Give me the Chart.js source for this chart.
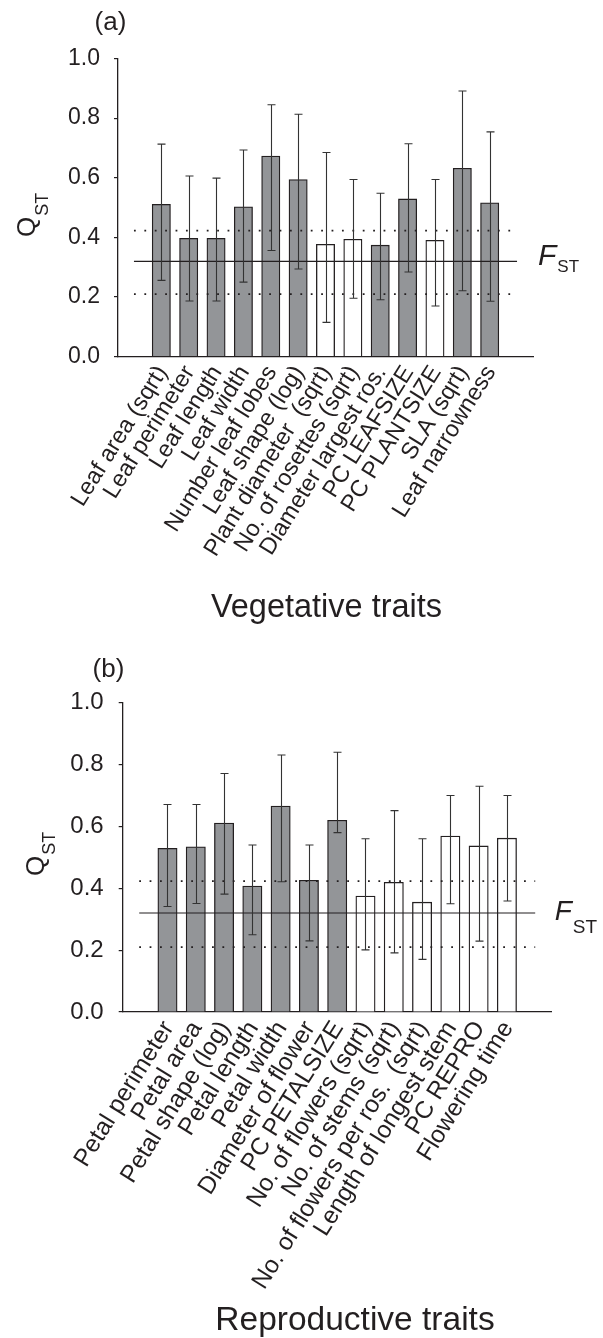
<!DOCTYPE html>
<html>
<head>
<meta charset="utf-8">
<script src="https://cdn.jsdelivr.net/npm/chart.js@4/dist/chart.umd.min.js"></script>
<style>
  html, body { margin: 0; padding: 0; background: #ffffff; }
  canvas { display: block; }
</style>
</head>
<body>
<canvas id="panelA" width="603" height="640"></canvas>
<canvas id="panelB" width="603" height="698"></canvas>
<script>
// ---- Vegetative traits ----
const vegTraits = ['Leaf area (sqrt)', 'Leaf perimeter', 'Leaf length', 'Leaf width',
  'Number leaf lobes', 'Leaf shape (log)', 'Plant diameter  (sqrt)', 'No. of rosettes (sqrt)',
  'Diameter largest ros.', 'PC LEAFSIZE', 'PC PLANTSIZE', 'SLA (sqrt)', 'Leaf narrowness'];
const vegQst  = [0.511, 0.397, 0.397, 0.503, 0.673, 0.594, 0.377, 0.394, 0.374, 0.529, 0.390, 0.632, 0.516];
const vegLow  = [0.256, 0.187, 0.187, 0.250, 0.356, 0.294, 0.115, 0.196, 0.191, 0.284, 0.170, 0.221, 0.186];
const vegHigh = [0.713, 0.606, 0.599, 0.693, 0.845, 0.813, 0.685, 0.594, 0.548, 0.714, 0.594, 0.891, 0.754];
const vegShaded = [1, 1, 1, 1, 1, 1, 0, 0, 1, 1, 0, 1, 1];

// ---- Reproductive traits ----
const repTraits = ['Petal perimeter', 'Petal area', 'Petal shape (log)', 'Petal length',
  'Petal width', 'Diameter of flower', 'PC PETALSIZE', 'No. of flowers (sqrt)',
  'No. of stems (sqrt)', 'No. of flowers per ros.  (sqrt)', 'Length of longest stem',
  'PC REPRO', 'Flowering time'];
const repQst  = [0.529, 0.534, 0.611, 0.407, 0.666, 0.426, 0.620, 0.375, 0.419, 0.355, 0.569, 0.537, 0.562];
const repLow  = [0.341, 0.351, 0.381, 0.250, 0.421, 0.230, 0.580, 0.201, 0.191, 0.170, 0.350, 0.229, 0.359];
const repHigh = [0.671, 0.671, 0.771, 0.540, 0.831, 0.540, 0.840, 0.560, 0.651, 0.560, 0.700, 0.730, 0.700];
const repShaded = [1, 1, 1, 1, 1, 1, 1, 0, 0, 0, 0, 0, 0];

// ---- Neutral differentiation and its interval ----
const fst = 0.32;
const fstLow = 0.21;
const fstHigh = 0.423;

// ---- Y axis tick values ----
const yTicks = [0.0, 0.2, 0.4, 0.6, 0.8, 1.0];

const INK = '#231f20';
const GREY = '#939598';
const FONT = "'Liberation Sans', Arial, Helvetica, sans-serif";

// Vertical error bars with caps, placed through the chart's own scales
const errorBarPlugin = {
  id: 'errorBars',
  afterDatasetsDraw(chart, args, opts) {
    const { ctx } = chart;
    const xs = chart.scales.x, ys = chart.scales.y;
    ctx.save();
    ctx.strokeStyle = '#333333';
    ctx.lineWidth = 1.1;
    opts.low.forEach((lo, i) => {
      const x = Math.round(xs.getPixelForValue(i)) + 0.5;
      const yl = ys.getPixelForValue(lo);
      const yh = ys.getPixelForValue(opts.high[i]);
      ctx.beginPath();
      ctx.moveTo(x, yl); ctx.lineTo(x, yh);
      ctx.moveTo(x - 4, yl); ctx.lineTo(x + 4, yl);
      ctx.moveTo(x - 4, yh); ctx.lineTo(x + 4, yh);
      ctx.stroke();
    });
    ctx.restore();
  }
};

// Panel letter, Q_ST axis label, F_ST label and the axis caption
const decorPlugin = {
  id: 'decor',
  afterDraw(chart, args, o) {
    const { ctx, chartArea } = chart;
    const ys = chart.scales.y;
    ctx.save();
    ctx.fillStyle = INK;

    // panel letter
    ctx.font = `26px ${FONT}`;
    ctx.textAlign = 'center';
    ctx.textBaseline = 'middle';
    ctx.fillText(o.letter, o.letterX, o.letterY);

    // Q_ST, rotated
    ctx.save();
    ctx.translate(o.qX, o.qY);
    ctx.rotate(-Math.PI / 2);
    ctx.textAlign = 'left';
    ctx.textBaseline = 'alphabetic';
    ctx.font = `26px ${FONT}`;
    ctx.fillText('Q', 0, 0);
    const qw = ctx.measureText('Q').width;
    ctx.font = `${o.qSub}px ${FONT}`;
    ctx.fillText('ST', qw + 1, o.qShift);
    ctx.restore();

    // F_ST beside the solid reference line
    const ly = ys.getPixelForValue(fst);
    ctx.textAlign = 'left';
    ctx.textBaseline = 'alphabetic';
    ctx.font = `italic ${o.fSize}px ${FONT}`;
    const fx = chartArea.right + o.fGap;
    ctx.fillText('F', fx, ly + o.fShift);
    const fw = ctx.measureText('F').width;
    ctx.font = `${o.fSub}px ${FONT}`;
    ctx.fillText('ST', fx + fw + 1, ly + o.fSubShift);

    // caption under the rotated category labels
    ctx.textAlign = 'center';
    ctx.font = `${o.titleSize}px ${FONT}`;
    ctx.fillText(o.title, o.titleX, o.titleY);
    ctx.restore();
  }
};

function buildPanel(id, traits, qst, low, high, shaded, geo, decor) {
  const canvas = document.getElementById(id);
  const H = canvas.height, W = canvas.width;
  const refLine = (v, dash, width) => ({
    type: 'line',
    data: [{ x: -1, y: v }, { x: 13, y: v }],
    borderColor: INK,
    borderWidth: width,
    borderDash: dash,
    borderCapStyle: 'butt',
    pointRadius: 0,
    order: 0
  });
  return new Chart(canvas, {
    type: 'bar',
    data: {
      datasets: [
        {
          type: 'bar',
          data: qst.map((v, i) => ({ x: i, y: v })),
          backgroundColor: shaded.map(s => (s ? GREY : '#ffffff')),
          borderColor: INK,
          borderWidth: 1.3,
          barThickness: geo.barW,
          order: 1
        },
        refLine(fst, [], 1.2),
        refLine(fstHigh, [1.8, 8.6], 1.8),
        refLine(fstLow, [1.8, 8.6], 1.8)
      ]
    },
    options: {
      responsive: false,
      animation: false,
      events: [],
      layout: { padding: { top: geo.top, right: W - geo.right, left: 0, bottom: 0 } },
      plugins: {
        legend: { display: false },
        tooltip: { enabled: false },
        errorBars: { low, high },
        decor
      },
      scales: {
        x: {
          type: 'linear',
          min: -1,
          max: 13,
          afterBuildTicks: s => { s.ticks = traits.map((_, i) => ({ value: i })); },
          afterFit: s => { s.height = H - geo.bottom; },
          ticks: {
            autoSkip: false,
            minRotation: 58,
            maxRotation: 58,
            padding: 4,
            labelOffset: 1,
            color: INK,
            font: { family: FONT, size: geo.labelSize },
            callback: v => traits[v]
          },
          grid: { display: true, drawOnChartArea: false, drawTicks: false },
          border: { display: true, color: INK, width: 1.3 }
        },
        y: {
          min: 0,
          max: 1,
          afterBuildTicks: s => { s.ticks = yTicks.map(v => ({ value: v })); },
          afterFit: s => { s.width = geo.left; },
          ticks: {
            padding: geo.yPad,
            color: INK,
            font: { family: FONT, size: geo.tickSize },
            callback: v => Number(v).toFixed(1)
          },
          grid: { drawOnChartArea: false, drawTicks: true, tickLength: 4, color: INK, lineWidth: 1.2 },
          border: { display: true, color: INK, width: 1.3 }
        }
      }
    },
    plugins: [errorBarPlugin, decorPlugin]
  });
}

buildPanel('panelA', vegTraits, vegQst, vegLow, vegHigh, vegShaded,
  { left: 118, right: 533, top: 58.5, bottom: 356.7, barW: 18.3, yPad: 14, labelSize: 23.5, tickSize: 23 },
  { letter: '(a)', letterX: 110.5, letterY: 22.5,
    qX: 35, qY: 237, qSub: 18, qShift: 13,
    fGap: 5, fSize: 30, fShift: 4, fSub: 17, fSubShift: 11,
    title: 'Vegetative traits', titleSize: 32.5, titleX: 326.5, titleY: 616.7 });

buildPanel('panelB', repTraits, repQst, repLow, repHigh, repShaded,
  { left: 122.7, right: 551.7, top: 62.7, bottom: 372, barW: 19.3, yPad: 15, labelSize: 24.5, tickSize: 24 },
  { letter: '(b)', letterX: 108.5, letterY: 30,
    qX: 44, qY: 236, qSub: 18, qShift: 11,
    fGap: 3, fSize: 28, fShift: 7, fSub: 19, fSubShift: 20,
    title: 'Reproductive traits', titleSize: 33.5, titleX: 355, titleY: 690 });
</script>
</body>
</html>
